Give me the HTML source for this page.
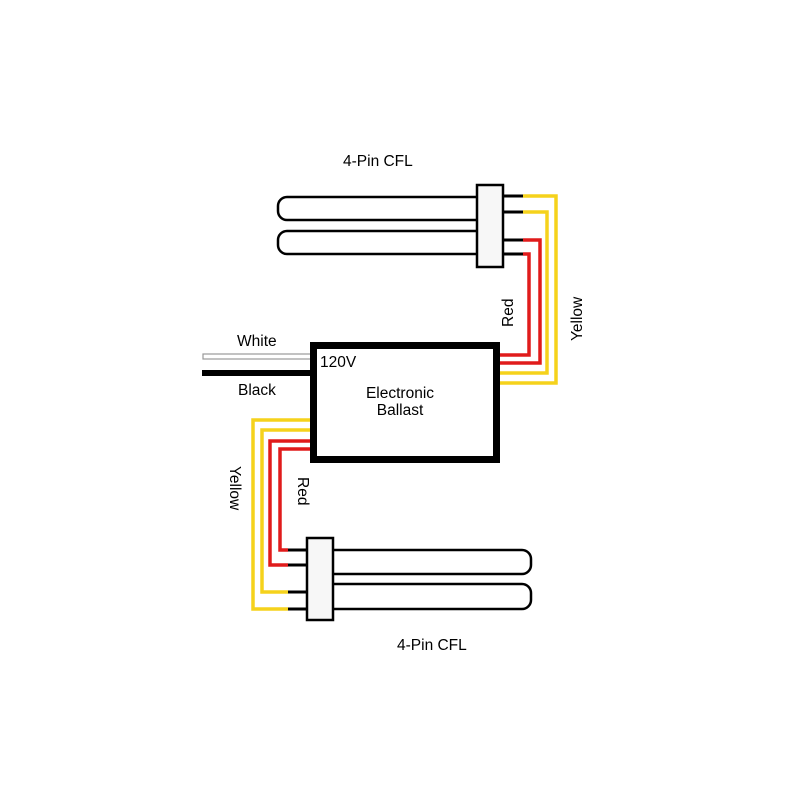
<!DOCTYPE html>
<html><head><style>html,body{margin:0;padding:0;background:#fff}svg{display:block}</style></head><body>
<svg width="800" height="800" viewBox="0 0 800 800" xmlns="http://www.w3.org/2000/svg" font-family="Liberation Sans, sans-serif" font-size="15.5" fill="#000">
<rect width="800" height="800" fill="#fff"/>
<g fill="none" stroke="#000" stroke-width="2.5">
<path d="M477 197 H287 a9 9 0 0 0 -9 9 V211 a9 9 0 0 0 9 9 H477"/>
<path d="M477 231 H287 a9 9 0 0 0 -9 9 V245 a9 9 0 0 0 9 9 H477"/>
</g>
<g stroke="#000" stroke-width="3">
<line x1="503" y1="196" x2="523" y2="196"/><line x1="503" y1="212" x2="523" y2="212"/>
<line x1="503" y1="240" x2="523" y2="240"/><line x1="503" y1="254" x2="523" y2="254"/>
</g>
<rect x="477" y="185" width="26" height="82" fill="#f7f7f7" stroke="#000" stroke-width="2.5"/>
<g fill="none" stroke-width="3.5">
<path d="M523 196 H556 V383 H500" stroke="#f5d21c"/>
<path d="M523 212 H547 V373 H500" stroke="#f5d21c"/>
<path d="M523 240 H540 V363 H500" stroke="#e01b1b"/>
<path d="M523 254 H529 V355 H500" stroke="#e01b1b"/>
</g>
<g fill="none" stroke="#000" stroke-width="2.5">
<path d="M333 550 H522 a9 9 0 0 1 9 9 V565 a9 9 0 0 1 -9 9 H333"/>
<path d="M333 584 H522 a9 9 0 0 1 9 9 V600 a9 9 0 0 1 -9 9 H333"/>
</g>
<g stroke="#000" stroke-width="3">
<line x1="288" y1="550" x2="308" y2="550"/><line x1="288" y1="565" x2="308" y2="565"/>
<line x1="288" y1="592" x2="308" y2="592"/><line x1="288" y1="609" x2="308" y2="609"/>
</g>
<rect x="307" y="538" width="26" height="82" fill="#f7f7f7" stroke="#000" stroke-width="2.5"/>
<g fill="none" stroke-width="3.5">
<path d="M288 609 H253 V420 H312" stroke="#f5d21c"/>
<path d="M288 592 H262 V430 H312" stroke="#f5d21c"/>
<path d="M288 565 H270 V441 H312" stroke="#e01b1b"/>
<path d="M288 550 H280 V449 H312" stroke="#e01b1b"/>
</g>
<rect x="203" y="354" width="108" height="5" fill="#fff" stroke="#999" stroke-width="1.2"/>
<line x1="202" y1="373" x2="312" y2="373" stroke="#000" stroke-width="6"/>
<rect x="313.5" y="345.5" width="183" height="114" fill="#fff" stroke="#000" stroke-width="7"/>
<text x="320" y="367">120V</text>
<text x="400" y="398" text-anchor="middle">Electronic</text>
<text x="400" y="415" text-anchor="middle">Ballast</text>
<text x="237" y="346">White</text>
<text x="238" y="395">Black</text>
<text x="343" y="166">4-Pin CFL</text>
<text x="397" y="650">4-Pin CFL</text>
<text transform="translate(513,327) rotate(-90)">Red</text>
<text transform="translate(582,341) rotate(-90)">Yellow</text>
<text transform="translate(230,466) rotate(90)">Yellow</text>
<text transform="translate(298,477) rotate(90)">Red</text>
</svg>
</body></html>
